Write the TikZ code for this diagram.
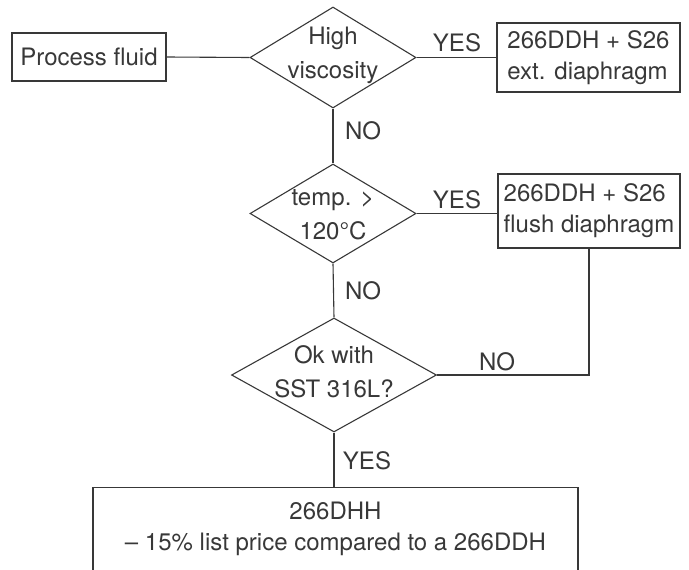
\documentclass[tikz,border=0pt]{standalone}
\usepackage{fontspec}
\setmainfont{TeX Gyre Heros}
\usetikzlibrary{shapes.geometric}
\definecolor{ink}{HTML}{383838}
\begin{document}
\begin{tikzpicture}[x=1pt,y=-1pt,
  every node/.style={font=\fontsize{24}{34}\selectfont, text=ink},
  line/.style={draw=ink, line width=1.1pt},
  box/.style={line, rectangle, inner sep=0pt},
  boxtxt/.style={box, align=left, font=\fontsize{24}{31}\selectfont},
  dec/.style={line, diamond, inner sep=0pt},
  lbl/.style={align=center, inner sep=0pt},
  tag/.style={inner sep=0pt}]
\useasboundingbox (0,0) rectangle (689,570);
\clip (0,0) rectangle (689,570);
% nodes
\node[box, minimum width=154pt, minimum height=48pt] (fluid) at (89,57) {Process fluid};
\node[dec, minimum width=166pt, minimum height=101pt] (d1) at (333,57.5) {};
\node[lbl] (d1t) at (333,55) {High\\viscosity};
\node[boxtxt, minimum width=183pt, minimum height=69pt] (box1) at (588.5,57.5) {266DDH + S26\\ext. diaphragm};
\node[dec, minimum width=166pt, minimum height=99pt] (d2) at (333,213.5) {};
\node[lbl] (d2t) at (333,215) {temp. >\\120°C};
\node[boxtxt, minimum width=182pt, minimum height=74pt] (box2) at (589,211) {266DDH + S26\\flush diaphragm};
\node[dec, minimum width=205pt, minimum height=114pt] (d3) at (334,375) {};
\node[lbl] (d3t) at (334,372) {Ok with\\SST 316L?};
\node[box, minimum width=485pt, minimum height=140pt, anchor=north] (res) at (335.5,487) {};
\node[lbl, font=\fontsize{24}{31}\selectfont] (rest) at (335.5,529) {266DHH\\-- 15\% list price compared to a 266DDH};
% connectors
\draw[line] (fluid.east) -- (d1.west);
\draw[line] (d1.east) -- (d1.east -| box1.west);
\draw[line] (d1.south) -- (d2.north);
\draw[line] (d2.east) -- (d2.east -| box2.west);
\draw[line] (d2.south) -- (d3.north);
\draw[line] (d3.east) -- (d3.east -| box2.south) -- (box2.south);
\draw[line] (d3.south) -- (d3.south |- res.north);
% labels
\node[tag] (y1) at (457,43) {YES};
\node[tag] (n1) at (363,131) {NO};
\node[tag] (y2) at (457,200) {YES};
\node[tag] (n2) at (363,291) {NO};
\node[tag] (n3) at (497,362) {NO};
\node[tag] (y3) at (367,461) {YES};
\end{tikzpicture}
\end{document}
